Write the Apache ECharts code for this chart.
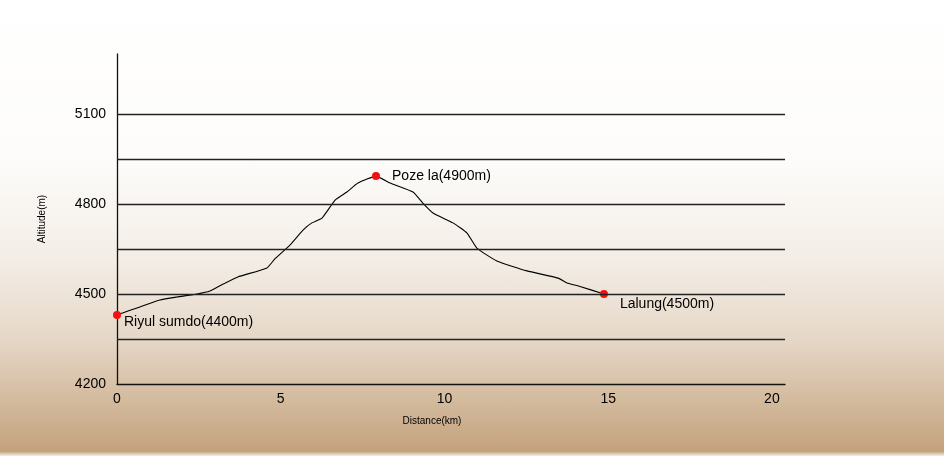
<!DOCTYPE html>
<html>
<head>
<meta charset="utf-8">
<script src="https://cdn.jsdelivr.net/npm/echarts@6/dist/echarts.min.js"></script>
<style>
  html, body { margin: 0; padding: 0; }
  body {
    width: 944px; height: 456px;
    background: linear-gradient(to bottom, #ffffff 0%, #fdfcfa 35%, #f3ede6 57%, #e6d8c8 74%, #d4bca0 87%, #c4a17d 99%, #f4efe8 100%);
  }
  #grafico { width: 944px; height: 456px; }
</style>
</head>
<body>
<div id="grafico"></div>
<script>
// perfil de la ruta (km, m)
const distancias = [0, 0.70, 1.31, 1.83, 2.44, 2.84, 3.24, 3.69, 4.58, 4.82, 5.28, 5.68, 5.95, 6.26, 6.66, 7.02, 7.36, 7.91, 8.34, 9.04, 9.34, 9.65, 10.26, 10.69, 10.99, 11.60, 12.52, 13.47, 13.74, 14.14, 14.87];
const altitudes = [4430, 4457, 4480, 4490, 4500, 4510, 4533, 4557, 4587, 4617, 4663, 4713, 4737, 4753, 4813, 4840, 4870, 4893, 4870, 4840, 4803, 4770, 4737, 4703, 4653, 4610, 4577, 4553, 4537, 4525, 4500];

const lugares = ['Riyul sumdo(4400m)', 'Poze la(4900m)', 'Lalung(4500m)'];
const lugaresKm = [0, 7.91, 14.87];
const lugaresAlt = [4430, 4893, 4500];
const posEtiquetas = [[11, 11], [20, 4], [20, 14]];

const ticksX = [0, 5, 10, 15, 20];
const ticksY = [4200, 4500, 4800, 5100];
const lineasGuia = [4350, 4500, 4650, 4800, 4950, 5100];

function dibujarPerfil() {
    let graf = echarts.init(document.getElementById('grafico'));

    let puntos = distancias.map((d, i) => [d, altitudes[i]]);
    let marcas = lugares.map((nombre, i) => ({
        value: [lugaresKm[i], lugaresAlt[i]],
        name: nombre,
        label: { position: posEtiquetas[i] }
    }));

    let option = {
        textStyle: { fontFamily: 'Liberation Sans, Arial, sans-serif' },
        grid: { left: 117, right: 159, top: 54, bottom: 72 },
        xAxis: {
            type: 'value',
            min: 0,
            max: 20.4,
            interval: 5,
            name: 'Distance(km)',
            nameLocation: 'middle',
            nameGap: 32,
            nameTextStyle: { fontSize: 10, color: '#000', padding: [0, 38, 0, 0] },
            axisLine: { lineStyle: { color: '#111', width: 1.3 } },
            axisTick: { show: false },
            splitLine: { show: false },
            axisLabel: {
                fontSize: 14, color: '#000', margin: 8,
                formatter: v => ticksX.includes(v) ? String(v) : ''
            }
        },
        yAxis: {
            type: 'value',
            min: 4200,
            max: 5300,
            interval: 150,
            name: 'Altitude(m)',
            nameLocation: 'middle',
            nameRotate: 90,
            nameGap: 70,
            nameTextStyle: { fontSize: 10, color: '#000' },
            axisLine: { show: true, lineStyle: { color: '#111', width: 1.3 } },
            axisTick: { show: false },
            splitLine: { show: false },
            axisLabel: {
                fontSize: 14, color: '#000', margin: 11,
                showMaxLabel: false,
                formatter: v => ticksY.includes(v) ? String(v) : ''
            }
        },
        series: [
            {
                name: 'Perfil',
                type: 'line',
                data: puntos,
                symbol: 'none',
                smooth: 0.15,
                lineStyle: { color: '#000', width: 1.1 },
                markLine: {
                    silent: true,
                    symbol: 'none',
                    label: { show: false },
                    lineStyle: { color: '#222', width: 1.3, type: 'solid' },
                    data: lineasGuia.map(v => ({ yAxis: v }))
                },
                z: 3
            },
            {
                name: 'Lugares',
                type: 'scatter',
                data: marcas,
                symbolSize: 8,
                itemStyle: { color: '#f21010', opacity: 1 },
                label: {
                    show: true,
                    formatter: p => p.name,
                    fontSize: 14,
                    color: '#000',
                    align: 'left',
                    verticalAlign: 'middle'
                },
                z: 4
            }
        ]
    };

    graf.setOption(option);
}

dibujarPerfil();
</script>
</body>
</html>
